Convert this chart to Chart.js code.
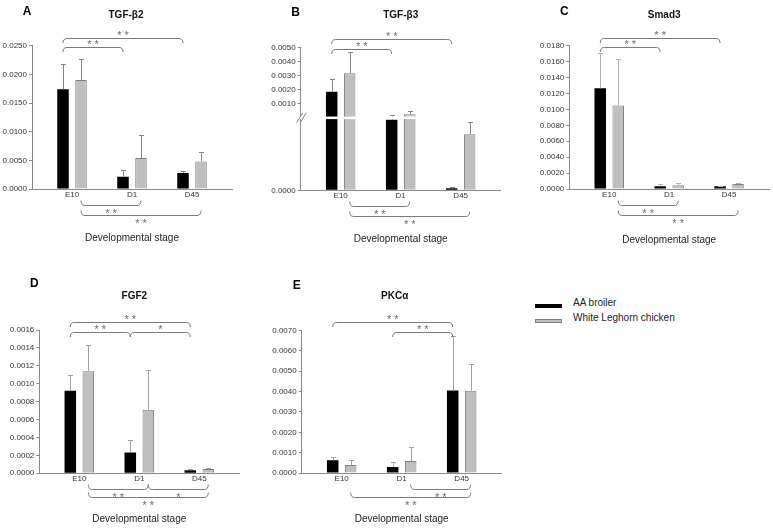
<!DOCTYPE html>
<html>
<head>
<meta charset="utf-8">
<script src="https://cdn.jsdelivr.net/npm/chart.js@4.4.1/dist/chart.umd.min.js"></script>
<style>
  body { margin: 0; background: #fff; }
  #fig { position: relative; width: 773px; height: 530px; background: #fff;
         font-family: "Liberation Sans", Arial, sans-serif; }
  #fig canvas { position: absolute; }
  .leg-row { position: absolute; left: 535px; height: 12px; font-size: 10px; line-height: 12px; color: #222; white-space: nowrap; }
  .leg-sw { position: absolute; left: 0; top: 7px; width: 27px; height: 4px; box-sizing: border-box; }
  .leg-txt { position: absolute; left: 38px; top: 0; }
</style>
</head>
<body>
<div id="fig">
  <canvas id="cA" width="250" height="250" style="left:0;top:0"></canvas>
  <canvas id="cB" width="250" height="250" style="left:268px;top:0"></canvas>
  <canvas id="cC" width="236" height="250" style="left:537px;top:0"></canvas>
  <canvas id="cD" width="260" height="270" style="left:0;top:260px"></canvas>
  <canvas id="cE" width="250" height="270" style="left:268px;top:260px"></canvas>
</div>
<script>
// ---- data -----------------------------------------------------------------
const stages = ['E10', 'D1', 'D45'];
const groups = ['AA broiler', 'White Leghorn chicken'];

// A  TGF-β2
const tgfb2Broiler = [0.0174, 0.00215, 0.0028];
const tgfb2BroilerSd = [0.0044, 0.00125, 0.0004];
const tgfb2Leghorn = [0.0190, 0.0054, 0.0048];
const tgfb2LeghornSd = [0.0036, 0.0041, 0.0016];
const tgfb2Ticks = [0, 0.005, 0.010, 0.015, 0.020, 0.025];

// B  TGF-β3 (broken y axis)
const tgfb3Broiler = [0.00183, 0.000098, 0.0000028];
const tgfb3BroilerSd = [0.00088, 0.000042, 0.0000022];
const tgfb3Leghorn = [0.00314, 0.00021, 0.000078];
const tgfb3LeghornSd = [0.0015, 0.00022, 0.000017];
const tgfb3Ticks = [0, 0.001, 0.002, 0.003, 0.004, 0.005];

// C  Smad3
const smad3Broiler = [0.01265, 0.00034, 0.00034];
const smad3BroilerSd = [0.0044, 0.00025, 0.00007];
const smad3Leghorn = [0.0105, 0.00046, 0.00063];
const smad3LeghornSd = [0.0058, 0.00033, 0.00016];
const smad3Ticks = [0, 0.002, 0.004, 0.006, 0.008, 0.010, 0.012, 0.014, 0.016, 0.018];

// D  FGF2
const fgf2Broiler = [0.00092, 0.00023, 0.000032];
const fgf2BroilerSd = [0.00018, 0.00014, 0.000015];
const fgf2Leghorn = [0.00114, 0.00071, 0.000047];
const fgf2LeghornSd = [0.00029, 0.00044, 0.000011];
const fgf2Ticks = [0, 0.0002, 0.0004, 0.0006, 0.0008, 0.0010, 0.0012, 0.0014, 0.0016];

// E  PKCα
const pkcaBroiler = [0.00063, 0.0003, 0.00405];
const pkcaBroilerSd = [0.00017, 0.00023, 0.00265];
const pkcaLeghorn = [0.0004, 0.00059, 0.00404];
const pkcaLeghornSd = [0.00022, 0.00067, 0.00133];
const pkcaTicks = [0, 0.001, 0.002, 0.003, 0.004, 0.005, 0.006, 0.007];

// significance brackets: from/to = [stage index, group index]
const threeWayBrackets = [
  { side: 'top', level: 0, from: [0, 0], to: [1, 0], text: '**' },
  { side: 'top', level: 1, from: [0, 0], to: [2, 0], text: '**' },
  { side: 'bottom', level: 0, from: [0, 1], to: [1, 1], text: '**' },
  { side: 'bottom', level: 1, from: [0, 1], to: [2, 1], text: '**' }
];
const fgf2Brackets = [
  { side: 'top', level: 0, from: [0, 0], to: [1, 0], text: '**' },
  { side: 'top', level: 0, from: [1, 0], to: [2, 0], text: '*' },
  { side: 'top', level: 1, from: [0, 0], to: [2, 0], text: '**' },
  { side: 'bottom', level: 0, from: [0, 1], to: [1, 1], text: '**' },
  { side: 'bottom', level: 0, from: [1, 1], to: [2, 1], text: '*' },
  { side: 'bottom', level: 1, from: [0, 1], to: [2, 1], text: '**' }
];
const pkcaBrackets = [
  { side: 'top', level: 0, from: [1, 0], to: [2, 0], text: '**' },
  { side: 'top', level: 1, from: [0, 0], to: [2, 0], text: '**' },
  { side: 'bottom', level: 0, from: [1, 1], to: [2, 1], text: '**' },
  { side: 'bottom', level: 1, from: [0, 1], to: [2, 1], text: '**' }
];

// lower segment 0..value gets lowerFrac of the axis, upper part restarts above the break
const tgfb3Break = { value: 0.0001, lowerFrac: 72 / 143, upperFrac: 73 / 143 };

// ---- broken linear scale --------------------------------------------------
class BrokenScale extends Chart.LinearScale {
  static id = 'broken';
  getPixelForValue(value) {
    const b = tgfb3Break;
    let frac;
    if (value <= b.value) frac = value / b.value * b.lowerFrac;
    else frac = b.upperFrac + (value / this.max) * (1 - b.upperFrac);
    return this.getPixelForDecimal(frac);
  }
  getValueForPixel(pixel) {
    const b = tgfb3Break;
    const frac = this.getDecimalForPixel(pixel);
    if (frac <= b.lowerFrac) return frac / b.lowerFrac * b.value;
    return (frac - b.upperFrac) / (1 - b.upperFrac) * this.max;
  }
}
Chart.register(BrokenScale);

Chart.defaults.font.family = '"Liberation Sans", Arial, sans-serif';
Chart.defaults.color = '#333';
Chart.defaults.animation = false;

const FONT = '"Liberation Sans", Arial, sans-serif';

function drawBracket(ctx, x1, x2, yLine, hook) {
  const r = 4;
  ctx.beginPath();
  ctx.moveTo(x1, yLine + hook);
  ctx.quadraticCurveTo(x1, yLine, x1 + r, yLine);
  ctx.lineTo(x2 - r, yLine);
  ctx.quadraticCurveTo(x2, yLine, x2, yLine + hook);
  ctx.stroke();
}

// error bars, axis break, brackets, panel letter and title
function figureMarks(p) {
  return {
    id: 'figureMarks',
    afterDatasetsDraw(chart) {
      const { ctx, chartArea: area } = chart;
      const y = chart.scales.y;
      ctx.save();

      ctx.strokeStyle = p.errColor;
      ctx.lineWidth = 1;
      chart.data.datasets.forEach((ds, di) => {
        chart.getDatasetMeta(di).data.forEach((bar, i) => {
          const x = Math.round(bar.x) + 0.5;
          const yTop = Math.round(y.getPixelForValue(ds.data[i].y + ds.sd[i])) + 0.5;
          ctx.beginPath();
          ctx.moveTo(x, bar.y);
          ctx.lineTo(x, yTop);
          ctx.moveTo(x - 2.5, yTop);
          ctx.lineTo(x + 2.5, yTop);
          ctx.stroke();
        });
      });

      if (p.broken) {
        const b = tgfb3Break;
        const yb = y.getPixelForDecimal((b.lowerFrac + b.upperFrac) / 2);
        ctx.fillStyle = '#fff';
        ctx.fillRect(area.left - 1.5, yb - 1.3, area.right - area.left + 1.5, 2.6);
        ctx.strokeStyle = '#808080';
        ctx.beginPath();
        ctx.moveTo(area.left - 4, yb + 5);
        ctx.lineTo(area.left + 2, yb - 5);
        ctx.moveTo(area.left - 0.5, yb + 5);
        ctx.lineTo(area.left + 5.5, yb - 5);
        ctx.stroke();
      }

      ctx.strokeStyle = '#7a7a7a';
      ctx.fillStyle = '#6a6a6a';
      ctx.font = '11px ' + FONT;
      ctx.textAlign = 'center';
      ctx.textBaseline = 'alphabetic';
      p.brackets.forEach((br) => {
        const x1 = chart.getDatasetMeta(br.from[1]).data[br.from[0]].x;
        const x2 = chart.getDatasetMeta(br.to[1]).data[br.to[0]].x;
        let yLine, yStar, hook;
        if (br.side === 'top') {
          yLine = Math.round(area.top + 1.5 - br.level * 9.5) + 0.5;
          yStar = yLine - 5.5;
          hook = 4.5;
        } else {
          yLine = Math.round(area.bottom + 16 + br.level * p.bottomGap) + 0.5;
          yStar = yLine + 5;
          hook = -5;
        }
        drawBracket(ctx, x1, x2, yLine, hook);
        ctx.fillText(br.text.split('').join(' '), (x1 + x2) / 2, yStar + 6);
      });

      ctx.textBaseline = 'middle';
      ctx.fillStyle = '#000';
      ctx.font = 'bold 12px ' + FONT;
      ctx.fillText(p.letter, area.left - 5, p.letterY);
      ctx.fillStyle = '#111';
      ctx.font = 'bold 10px ' + FONT;
      ctx.fillText(p.title, (area.left + area.right) / 2 + p.titleDx, p.titleY);
      ctx.restore();
    }
  };
}

function toPoints(values) {
  return values.map((v, i) => ({ x: i, y: v }));
}

function makePanel(p) {
  return new Chart(document.getElementById(p.canvas), {
    type: 'bar',
    data: {
      datasets: [
        { label: groups[0], data: toPoints(p.broiler), sd: p.broilerSd,
          backgroundColor: '#000', borderColor: '#000', borderWidth: 0 },
        { label: groups[1], data: toPoints(p.leghorn), sd: p.leghornSd,
          backgroundColor: '#bfbfbf', borderColor: '#7f7f7f', borderWidth: 1 }
      ]
    },
    options: {
      responsive: false,
      animation: false,
      events: [],
      datasets: { bar: { categoryPercentage: 0.6, barPercentage: 0.64 } },
      layout: { padding: { left: 0, right: p.padR, top: p.padT, bottom: 0 } },
      plugins: {
        legend: { display: false },
        tooltip: { enabled: false },
        title: { display: false }
      },
      scales: {
        x: {
          type: 'linear', offset: false, bounds: 'data',
          min: -2 / 3, max: 8 / 3,
          afterBuildTicks: (s) => { s.ticks = stages.map((_, i) => ({ value: i })); },
          afterFit: (s) => { s.height = p.xH; },
          grid: { display: false, drawTicks: false, tickLength: 0 },
          border: { display: true, color: '#8a8a8a' },
          ticks: { font: { size: 8 }, color: '#333', padding: 1, autoSkip: false, maxRotation: 0,
                   callback: (v) => stages[v] },
          title: { display: true, text: 'Developmental stage', color: '#222',
                   font: { size: 10 }, padding: { top: 0, bottom: p.xTitlePad } }
        },
        y: {
          type: p.broken ? 'broken' : 'linear',
          min: 0, max: p.ticks[p.ticks.length - 1],
          afterBuildTicks: (s) => { s.ticks = p.ticks.map((v) => ({ value: v })); },
          afterFit: (s) => { s.width = p.yW; },
          grid: { display: true, drawOnChartArea: false, drawTicks: true, tickLength: 3, color: '#8a8a8a' },
          border: { display: true, color: '#8a8a8a' },
          ticks: { font: { size: 8 }, color: '#333', padding: 2, autoSkip: false,
                   callback: (v) => Number(v).toFixed(4) }
        }
      }
    },
    plugins: [figureMarks(p)]
  });
}

makePanel({ canvas: 'cA', letter: 'A', letterY: 12, title: 'TGF-β2', titleY: 15, titleDx: -6,
  broiler: tgfb2Broiler, broilerSd: tgfb2BroilerSd, leghorn: tgfb2Leghorn, leghornSd: tgfb2LeghornSd,
  ticks: tgfb2Ticks, brackets: threeWayBrackets,
  yW: 32, padR: 18, padT: 45.7, xH: 61, xTitlePad: 6, bottomGap: 10, errColor: '#858585' });

makePanel({ canvas: 'cB', letter: 'B', letterY: 12.5, title: 'TGF-β3', titleY: 15, titleDx: 0, broken: true,
  broiler: tgfb3Broiler, broilerSd: tgfb3BroilerSd, leghorn: tgfb3Leghorn, leghornSd: tgfb3LeghornSd,
  ticks: tgfb3Ticks, brackets: threeWayBrackets,
  yW: 32.7, padR: 17.3, padT: 47.3, xH: 59.7, xTitlePad: 5, bottomGap: 10, errColor: '#858585' });

makePanel({ canvas: 'cC', letter: 'C', letterY: 12, title: 'Smad3', titleY: 15, titleDx: -5,
  broiler: smad3Broiler, broilerSd: smad3BroilerSd, leghorn: smad3Leghorn, leghornSd: smad3LeghornSd,
  ticks: smad3Ticks, brackets: threeWayBrackets,
  yW: 32.3, padR: 4, padT: 45.7, xH: 61, xTitlePad: 4, bottomGap: 10, errColor: '#b0b0b0' });

makePanel({ canvas: 'cD', letter: 'D', letterY: 24, title: 'FGF2', titleY: 36, titleDx: -5,
  broiler: fgf2Broiler, broilerSd: fgf2BroilerSd, leghorn: fgf2Leghorn, leghornSd: fgf2LeghornSd,
  ticks: fgf2Ticks, brackets: fgf2Brackets,
  yW: 39.3, padR: 20.7, padT: 70, xH: 56.8, xTitlePad: 4.7, bottomGap: 7.5, errColor: '#a0a0a0' });

makePanel({ canvas: 'cE', letter: 'E', letterY: 26, title: 'PKCα', titleY: 36, titleDx: -7,
  broiler: pkcaBroiler, broilerSd: pkcaBroilerSd, leghorn: pkcaLeghorn, leghornSd: pkcaLeghornSd,
  ticks: pkcaTicks, brackets: pkcaBrackets,
  yW: 33.7, padR: 16.3, padT: 70.3, xH: 56.9, xTitlePad: 4.7, bottomGap: 7.5, errColor: '#a0a0a0' });

// legend
const fig = document.getElementById('fig');
const swatchStyles = ['background:#000;', 'background:#bfbfbf;border:1px solid #7f7f7f;'];
groups.forEach((name, i) => {
  const row = document.createElement('div');
  row.className = 'leg-row';
  row.style.top = (297 + i * 14.5) + 'px';
  row.innerHTML = '<span class="leg-sw" style="' + swatchStyles[i] + '"></span><span class="leg-txt"></span>';
  row.querySelector('.leg-txt').textContent = name;
  fig.appendChild(row);
});
</script>
</body>
</html>
